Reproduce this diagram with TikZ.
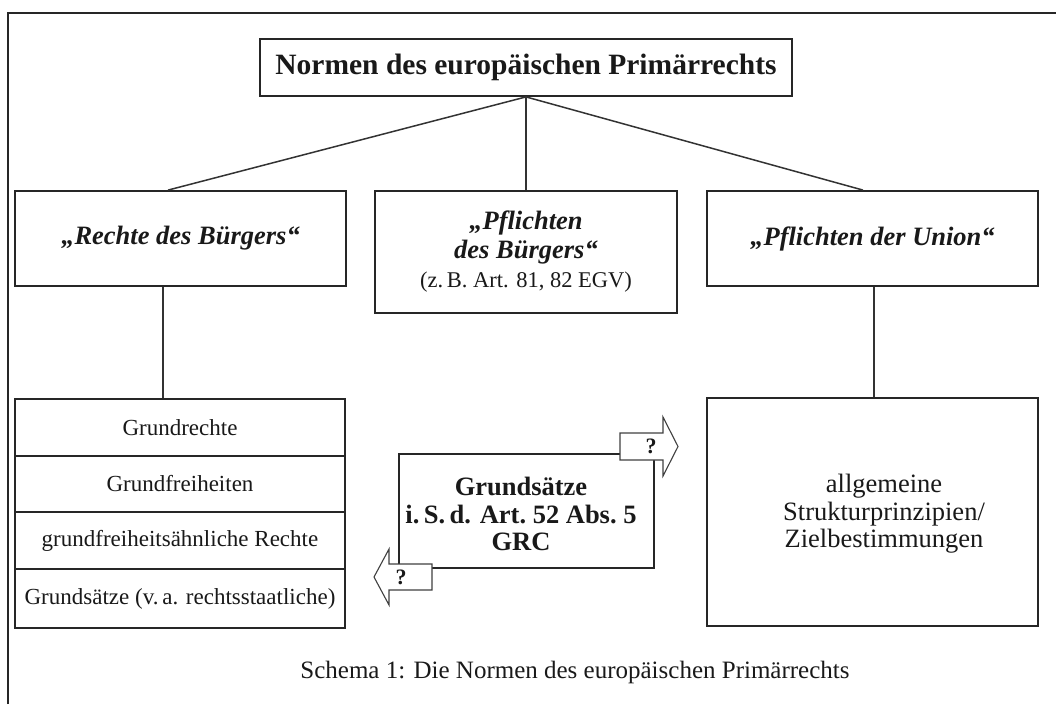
\documentclass[tikz,border=0pt]{standalone}
\usepackage{fontspec}
\setmainfont{Liberation Serif}
\begin{document}
\begin{tikzpicture}[x=1pt,y=-1pt,
  box/.style={draw=black!85, line width=1.8pt, fill=white, inner sep=0pt, align=center, text=black!90},
  conn/.style={draw=black!80, line width=1.5pt},
  blockarrow/.style={draw=black!75, line width=1.1pt, fill=white, line join=miter},
  big/.style={font=\fontsize{26.5}{29}\selectfont\bfseries\itshape},
  stk/.style={box, minimum width=330pt, font=\fontsize{23}{26}\selectfont},
  lbl/.style={inner sep=0pt, align=center, text=black!90},
  qm/.style={font=\fontsize{22}{24}\selectfont\bfseries, text=black!90, inner sep=0pt}]
\useasboundingbox (0,0) rectangle (1056,704);
% outer frame
\coordinate (fbl) at (8,704);
\coordinate (ftl) at (8,13);
\coordinate (ftr) at (1056,13);
\draw[line width=1.8pt, black!85] (fbl) -- (ftl) -- (ftr);

% title
\node[box, minimum width=532pt, minimum height=57pt, font=\fontsize{29.5}{34}\selectfont\bfseries] (title) at (526,67.5) {Normen des europäischen Primärrechts};

% level 2
\node[box, big, minimum width=331pt, minimum height=95pt] (rechte) at (180.5,238.5) {„Rechte des Bürgers“};
\node[box, minimum width=302pt, minimum height=122pt, font=\fontsize{26.5}{29}\selectfont] (pflB) at (526,252)
  {\textbf{\textit{„Pflichten}}\\ \textbf{\textit{des Bürgers“}}\\ \fontsize{22.5}{29}\selectfont (z.\,B. Art. 81, 82 EGV)};
\node[box, big, minimum width=331pt, minimum height=95pt] (pflU) at (872.5,238.5) {„Pflichten der Union“};

% stack
\node[stk, minimum height=57pt] (s1) at (180,427.5) {Grundrechte};
\node[stk, minimum height=56pt] (s2) at (180,484) {Grundfreiheiten};
\node[stk, minimum height=57pt] (s3) at (180,540.5) {grundfreiheitsähnliche Rechte};
\node[stk, minimum height=59pt] (s4) at (180,598.5) {Grundsätze (v.\,a. rechtsstaatliche)};

% right lower box
\node[box, minimum width=331pt, minimum height=228pt] (allg) at (872.5,512) {};
\node[lbl, font=\fontsize{26.5}{27.5}\selectfont] (allgt) at (884,514)
  {allgemeine\\ Strukturprinzipien/\\ Zielbestimmungen};

% middle Grundsaetze box
\node[box, minimum width=255pt, minimum height=114pt] (grs) at (526.5,511) {};
\node[lbl, font=\fontsize{26.5}{27.5}\selectfont\bfseries] (grst) at (521,514)
  {Grundsätze\\ i.\,S.\,d. Art.~52 Abs.~5\\ GRC};

% block arrows
\draw[blockarrow] (620,433) -- (663,433) -- (663,417) -- (678,446.5) -- (663,476) -- (663,460) -- (620,460) -- cycle;
\node[qm] (q1) at (651,446.5) {?};
\draw[blockarrow] (432,564) -- (389,564) -- (389,549) -- (374,577) -- (389,605) -- (389,590) -- (432,590) -- cycle;
\node[qm] (q2) at (401,577) {?};

% connectors
\draw[conn] (title.south) -- ([xshift=-12.5pt]rechte.north);
\draw[conn] (title.south) -- (pflB.north);
\draw[conn] (title.south) -- ([xshift=-9.5pt]pflU.north);
\draw[conn] ([xshift=-17.5pt]rechte.south) -- ([xshift=-17pt]s1.north);
\draw[conn] ([xshift=1.5pt]pflU.south) -- ([xshift=1.5pt]allg.north);

% caption
\node[font=\fontsize{25}{28}\selectfont, text=black!90, inner sep=0pt] (cap) at (575,672) {Schema 1: Die Normen des europäischen Primärrechts};
\end{tikzpicture}
\end{document}
